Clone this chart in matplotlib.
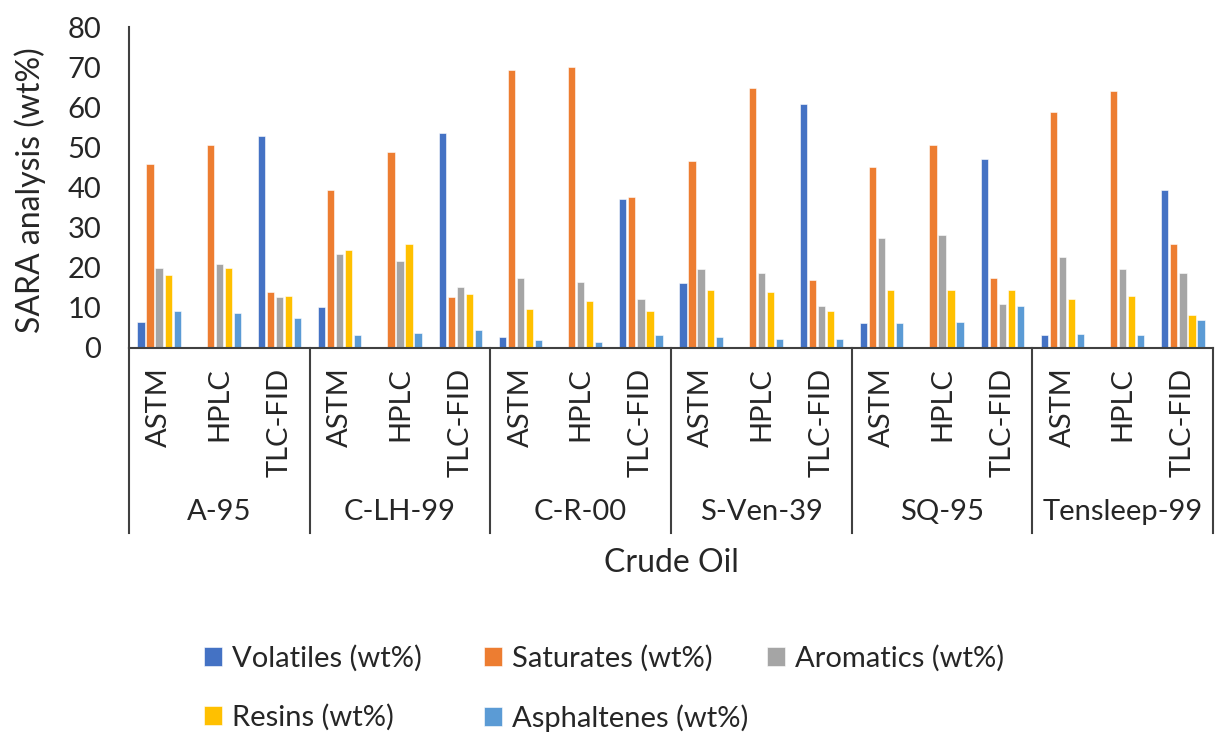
import numpy as np
import matplotlib
matplotlib.use('Agg')
import matplotlib.pyplot as plt
from matplotlib.transforms import blended_transform_factory

plt.rcParams['font.family'] = ['Lato', 'DejaVu Sans']

crudes = ['A-95', 'C-LH-99', 'C-R-00', 'S-Ven-39', 'SQ-95', 'Tensleep-99']
methods = ['ASTM', 'HPLC', 'TLC-FID']

# one value per (crude, method), in order A-95 ASTM, A-95 HPLC, A-95 TLC-FID, ...
volatiles = [6.6, 0, 52.8, 10.1, 0, 53.6, 2.7, 0, 37.2,
             16.1, 0, 60.9, 6.2, 0, 47.1, 3.2, 0, 39.4]
saturates = [45.9, 50.6, 13.9, 39.4, 48.9, 12.6, 69.2, 70.0, 37.7,
             46.7, 64.8, 17.0, 45.0, 50.6, 17.4, 58.8, 64.0, 26.0]
aromatics = [20.0, 20.9, 12.6, 23.4, 21.7, 15.3, 17.4, 16.5, 12.2,
             19.6, 18.7, 10.5, 27.4, 28.2, 10.9, 22.6, 19.6, 18.7]
resins = [18.2, 20.0, 13.0, 24.3, 26.0, 13.5, 9.6, 11.8, 9.2,
          14.4, 13.9, 9.2, 14.4, 14.4, 14.4, 12.2, 13.0, 8.3]
asphaltenes = [9.2, 8.8, 7.5, 3.2, 3.7, 4.4, 1.9, 1.4, 3.2,
               2.7, 2.3, 2.3, 6.2, 6.6, 10.5, 3.6, 3.2, 7.1]

series = [('Volatiles (wt%)', volatiles, '#4472C4'),
          ('Saturates (wt%)', saturates, '#ED7D31'),
          ('Aromatics (wt%)', aromatics, '#A5A5A5'),
          ('Resins (wt%)', resins, '#FFC000'),
          ('Asphaltenes (wt%)', asphaltenes, '#5B9BD5')]

txt = '#262626'
fs = 21

fig = plt.figure(figsize=(12.15, 7.35), dpi=100)
ax = fig.add_axes([129/1215, 1 - 348/735, 1084/1215, 321/735])

x = np.arange(len(crudes) * len(methods))
handles = []
for i, (name, vals, col) in enumerate(series):
    b = ax.bar(x + (i - 2) * 0.15, vals, width=0.12, color=col,
               edgecolor='white', linewidth=0.4, label=name)
    handles.append(b)

ax.set_xlim(-0.5, len(x) - 0.5)
ax.set_ylim(0, 80)
ax.set_yticks(range(0, 81, 10))
ax.tick_params(axis='y', length=0, pad=20, labelsize=fs, labelcolor=txt)
ax.set_xticks(x)
ax.set_xticklabels(methods * len(crudes), rotation=90)
ax.tick_params(axis='x', length=0, pad=14, labelsize=fs, labelcolor=txt)

for s in ['top', 'right']:
    ax.spines[s].set_visible(False)
for s in ['left', 'bottom']:
    ax.spines[s].set_color('#404040')
    ax.spines[s].set_linewidth(1.5)

trans = blended_transform_factory(ax.transData, ax.transAxes)
for k in range(len(crudes) + 1):
    ax.plot([k * 3 - 0.5] * 2, [0, -0.577], transform=trans, color='#404040',
            lw=1.5, clip_on=False)
for k, name in enumerate(crudes):
    ax.text(k * 3 + 1, -0.511, name, transform=trans, ha='center', va='center',
            fontsize=fs, color=txt)

ax.text(0.5, -0.67, 'Crude Oil', transform=ax.transAxes, ha='center',
        va='center', fontsize=23, color=txt)
fig.text(30/1215, 1 - 190/735, 'SARA analysis (wt%)', rotation=90,
         ha='center', va='center', fontsize=23, color=txt)

cols = [([0, 3], 204), ([1, 4], 484), ([2], 767)]
for idx, xpix in cols:
    fig.legend([handles[j] for j in idx], [series[j][0] for j in idx],
               loc='upper left', bbox_to_anchor=(xpix/1215, 1 - 645/735),
               frameon=False, fontsize=fs, borderpad=0, borderaxespad=0,
               handlelength=0.6, handleheight=0.6, handletextpad=0.35,
               labelspacing=1.1, labelcolor=txt)

plt.savefig('out.png', dpi=100)
